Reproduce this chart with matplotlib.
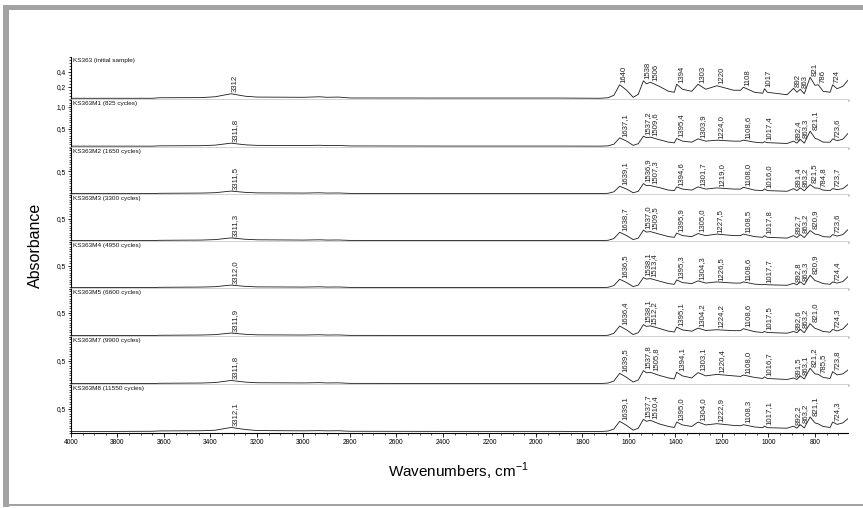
# Stacked FTIR spectra of KS363 after thermal cycling, one strip per sample, with the
# band positions written over the peaks the way the spectrometer software labels them.
import numpy as np
import matplotlib
matplotlib.use("Agg")
import matplotlib.pyplot as plt
from matplotlib.patches import Rectangle
from matplotlib.ticker import MultipleLocator

plt.rcParams["font.family"] = ["Liberation Sans", "DejaVu Sans"]
plt.rcParams["mathtext.fontset"] = "custom"
plt.rcParams["mathtext.rm"] = "Liberation Sans"

# knots of the traces (cm-1)
WAVENUMBERS = [4000, 3650, 3620, 3440, 3380, 3312, 3250, 3200, 3000, 2930,
               2900, 2850, 2800, 2400, 1900, 1725, 1690, 1665, 1640, 1610,
               1582, 1560, 1538, 1525, 1508, 1470, 1430, 1405, 1395, 1370,
               1330, 1303, 1270, 1222, 1150, 1120, 1108, 1060, 1025, 1017,
               1005, 920, 892, 878, 863, 846, 821, 800, 786, 765,
               735, 724, 705, 680, 658]

TITLES = ["KS363 (initial sample)", "KS363M1 (825 cycles)", "KS363M2 (1650 cycles)",
          "KS363M3 (3300 cycles)", "KS363M4 (4950 cycles)", "KS363M5 (6600 cycles)",
          "KS363M7 (9900 cycles)", "KS363M8 (11550 cycles)"]

ABS_KS363 = [0.050, 0.050, 0.057, 0.059, 0.070, 0.110, 0.077, 0.066, 0.063, 0.070,
             0.063, 0.066, 0.054, 0.053, 0.053, 0.050, 0.057, 0.090, 0.230, 0.157,
             0.063, 0.103, 0.283, 0.243, 0.263, 0.210, 0.143, 0.130, 0.237, 0.170,
             0.143, 0.237, 0.170, 0.217, 0.157, 0.157, 0.197, 0.130, 0.117, 0.177,
             0.130, 0.097, 0.183, 0.130, 0.170, 0.110, 0.330, 0.223, 0.230, 0.143,
             0.130, 0.230, 0.177, 0.210, 0.290]
ABS_M1 = [0.110, 0.110, 0.117, 0.121, 0.133, 0.178, 0.140, 0.128, 0.124, 0.130,
          0.124, 0.126, 0.115, 0.112, 0.112, 0.110, 0.117, 0.155, 0.299, 0.224,
          0.128, 0.167, 0.337, 0.303, 0.315, 0.258, 0.201, 0.185, 0.285, 0.224,
          0.201, 0.276, 0.224, 0.246, 0.224, 0.224, 0.246, 0.201, 0.185, 0.212,
          0.190, 0.171, 0.224, 0.178, 0.262, 0.178, 0.451, 0.292, 0.262, 0.201,
          0.201, 0.276, 0.235, 0.269, 0.399]
ABS_M2 = [0.030, 0.030, 0.036, 0.041, 0.049, 0.083, 0.056, 0.045, 0.041, 0.047,
          0.041, 0.043, 0.034, 0.032, 0.032, 0.030, 0.036, 0.068, 0.185, 0.126,
          0.047, 0.079, 0.243, 0.200, 0.200, 0.158, 0.104, 0.094, 0.173, 0.126,
          0.104, 0.173, 0.126, 0.151, 0.126, 0.126, 0.164, 0.104, 0.094, 0.130,
          0.094, 0.079, 0.136, 0.094, 0.151, 0.090, 0.221, 0.147, 0.147, 0.104,
          0.094, 0.136, 0.115, 0.136, 0.221]
ABS_M3 = [0.030, 0.030, 0.036, 0.041, 0.051, 0.087, 0.058, 0.047, 0.041, 0.047,
          0.041, 0.043, 0.034, 0.032, 0.032, 0.030, 0.036, 0.073, 0.207, 0.136,
          0.051, 0.083, 0.253, 0.211, 0.221, 0.168, 0.115, 0.100, 0.190, 0.136,
          0.115, 0.179, 0.136, 0.168, 0.136, 0.136, 0.168, 0.115, 0.100, 0.136,
          0.100, 0.083, 0.136, 0.094, 0.158, 0.094, 0.243, 0.168, 0.158, 0.115,
          0.104, 0.158, 0.126, 0.158, 0.264]
ABS_M4 = [0.030, 0.030, 0.036, 0.041, 0.049, 0.083, 0.056, 0.045, 0.041, 0.047,
          0.041, 0.043, 0.034, 0.032, 0.032, 0.030, 0.036, 0.073, 0.207, 0.136,
          0.051, 0.083, 0.243, 0.211, 0.221, 0.168, 0.115, 0.100, 0.194, 0.136,
          0.115, 0.173, 0.126, 0.151, 0.126, 0.126, 0.151, 0.104, 0.090, 0.100,
          0.090, 0.079, 0.121, 0.090, 0.151, 0.090, 0.292, 0.179, 0.158, 0.115,
          0.100, 0.151, 0.126, 0.158, 0.264]
ABS_M5 = [0.030, 0.030, 0.036, 0.041, 0.049, 0.083, 0.056, 0.045, 0.041, 0.047,
          0.041, 0.043, 0.034, 0.032, 0.032, 0.030, 0.036, 0.077, 0.228, 0.147,
          0.051, 0.090, 0.258, 0.221, 0.232, 0.179, 0.121, 0.104, 0.207, 0.147,
          0.121, 0.185, 0.136, 0.151, 0.132, 0.132, 0.173, 0.111, 0.094, 0.115,
          0.094, 0.079, 0.115, 0.090, 0.158, 0.090, 0.279, 0.179, 0.158, 0.115,
          0.100, 0.158, 0.126, 0.168, 0.279]
ABS_M7 = [0.030, 0.030, 0.036, 0.041, 0.051, 0.094, 0.060, 0.047, 0.043, 0.049,
          0.043, 0.045, 0.034, 0.032, 0.032, 0.030, 0.041, 0.083, 0.243, 0.158,
          0.062, 0.104, 0.300, 0.253, 0.264, 0.200, 0.147, 0.126, 0.264, 0.190,
          0.147, 0.258, 0.190, 0.221, 0.190, 0.179, 0.207, 0.158, 0.136, 0.168,
          0.136, 0.115, 0.147, 0.115, 0.190, 0.126, 0.349, 0.232, 0.221, 0.158,
          0.136, 0.279, 0.211, 0.232, 0.313]
ABS_M8 = [0.030, 0.036, 0.043, 0.047, 0.058, 0.115, 0.073, 0.051, 0.045, 0.049,
          0.045, 0.047, 0.036, 0.034, 0.034, 0.030, 0.041, 0.083, 0.243, 0.158,
          0.058, 0.100, 0.285, 0.243, 0.264, 0.190, 0.136, 0.115, 0.228, 0.168,
          0.136, 0.228, 0.168, 0.194, 0.158, 0.151, 0.173, 0.126, 0.111, 0.143,
          0.111, 0.100, 0.143, 0.100, 0.173, 0.104, 0.334, 0.211, 0.190, 0.136,
          0.115, 0.228, 0.179, 0.211, 0.300]

PEAKS_KS363 = ["3312", "1640", "1538", "1506", "1394", "1303", "1220", "1108", "1017",
               "892", "863", "821", "786", "724"]
PEAKS_M1 = ["3311,8", "1637,1", "1537,2", "1509,6", "1395,4", "1303,9", "1224,0", "1108,6",
            "1017,4", "892,4", "863,3", "821,1", "723,6"]
PEAKS_M2 = ["3311,5", "1639,1", "1536,9", "1507,3", "1394,6", "1301,7", "1219,0", "1108,0",
            "1016,0", "891,4", "863,2", "821,5", "784,8", "723,7"]
PEAKS_M3 = ["3311,3", "1638,7", "1537,0", "1509,5", "1395,9", "1305,0", "1227,5", "1108,5",
            "1017,8", "892,7", "863,2", "820,9", "723,6"]
PEAKS_M4 = ["3312,0", "1636,5", "1538,1", "1513,4", "1395,3", "1304,3", "1226,5", "1108,6",
            "1017,7", "892,8", "863,3", "820,9", "724,4"]
PEAKS_M5 = ["3311,9", "1636,4", "1538,1", "1512,2", "1395,1", "1304,2", "1224,2", "1108,6",
            "1017,5", "892,6", "863,2", "821,0", "724,3"]
PEAKS_M7 = ["3311,8", "1639,5", "1537,8", "1505,8", "1394,1", "1303,1", "1220,4", "1108,0",
            "1016,7", "891,5", "863,1", "821,2", "785,5", "723,8"]
PEAKS_M8 = ["3312,1", "1639,1", "1537,7", "1510,4", "1395,0", "1304,0", "1222,9", "1108,3",
            "1017,1", "892,2", "863,2", "821,1", "724,3"]

SPECTRA = [ABS_KS363, ABS_M1, ABS_M2, ABS_M3, ABS_M4, ABS_M5, ABS_M7, ABS_M8]
PEAKS = [PEAKS_KS363, PEAKS_M1, PEAKS_M2, PEAKS_M3, PEAKS_M4, PEAKS_M5, PEAKS_M7, PEAKS_M8]

# per strip axis setup: y range, labelled ticks, minor tick step
YLIMS = [(0.027, 0.6), (0.068, 1.16)] + [(0.0, 1.0)] * 6
YTICKS = [[0.2, 0.4], [0.5, 1.0]] + [[0.5]] * 6
YMINOR = [0.04] + [0.05] * 7

W, H = 863, 508
EDGES = [57, 100, 148, 195, 242, 289, 337, 385, 433]   # strip borders in pixels
X0, X1 = 71, 848

fig = plt.figure(figsize=(W / 100, H / 100), dpi=100)

# grey frame of the original figure box
frame = "#a3a3a3"
for (x, y, w, h) in [(3, 5, 6, 502), (3, 5, 860, 5), (3, 504, 860, 2)]:
    fig.add_artist(Rectangle((x / W, 1 - (y + h) / H), w / W, h / H,
                             transform=fig.transFigure, color=frame, lw=0))

wn_up = np.array(WAVENUMBERS[::-1], dtype=float)
n = len(SPECTRA)
for i in range(n):
    top, bot = EDGES[i], EDGES[i + 1]
    ax = fig.add_axes([X0 / W, 1 - bot / H, (X1 - X0) / W, (bot - top) / H])
    ab = SPECTRA[i]
    ax.plot(WAVENUMBERS, ab, color="#1a1a1a", lw=0.6)
    ax.set_xlim(4000, 658)
    ax.set_ylim(*YLIMS[i])

    ax.spines["top"].set_visible(False)
    ax.spines["right"].set_visible(False)
    ax.spines["left"].set_linewidth(0.8)
    ax.set_yticks(YTICKS[i])
    ax.set_yticklabels([f"{v:.1f}".replace(".", ",") for v in YTICKS[i]])
    ax.yaxis.set_minor_locator(MultipleLocator(YMINOR[i]))
    ax.tick_params(axis="y", which="major", length=2.5, width=0.6, labelsize=4.8, pad=1)
    ax.tick_params(axis="y", which="minor", length=1.2, width=0.5)

    if i < n - 1:
        ax.spines["bottom"].set_color("#c4c4c4")
        ax.spines["bottom"].set_linewidth(1.8)
        ax.tick_params(axis="x", which="both", bottom=False, labelbottom=False)
    else:
        ax.spines["bottom"].set_linewidth(0.8)
        ax.xaxis.set_major_locator(MultipleLocator(200))
        ax.xaxis.set_minor_locator(MultipleLocator(50))
        ax.tick_params(axis="x", which="major", length=3, width=0.6, labelsize=4.8, pad=1.5)
        ax.tick_params(axis="x", which="minor", length=1.5, width=0.5)

    ax.text(0.003, 0.985, TITLES[i], transform=ax.transAxes, ha="left", va="top",
            fontsize=4.6, color="#111111")

    ab_up = np.array(ab[::-1], dtype=float)
    for lab in PEAKS[i]:
        wn = float(lab.replace(",", "."))
        y = np.interp(wn, wn_up, ab_up)
        ax.annotate(lab, xy=(wn, y), xytext=(0.8, 1.0), textcoords="offset points",
                    rotation=90, ha="left", va="bottom", fontsize=5.6, color="#222222")

fig.text(458 / W, 1 - 471 / H, "Wavenumbers, cm$^{\\mathregular{-1}}$", ha="center",
         va="center", fontsize=11)
fig.text(35 / W, 1 - 245 / H, "Absorbance", ha="center", va="center", rotation=90, fontsize=11.5)

fig.savefig("out.png", dpi=100)
plt.close(fig)
